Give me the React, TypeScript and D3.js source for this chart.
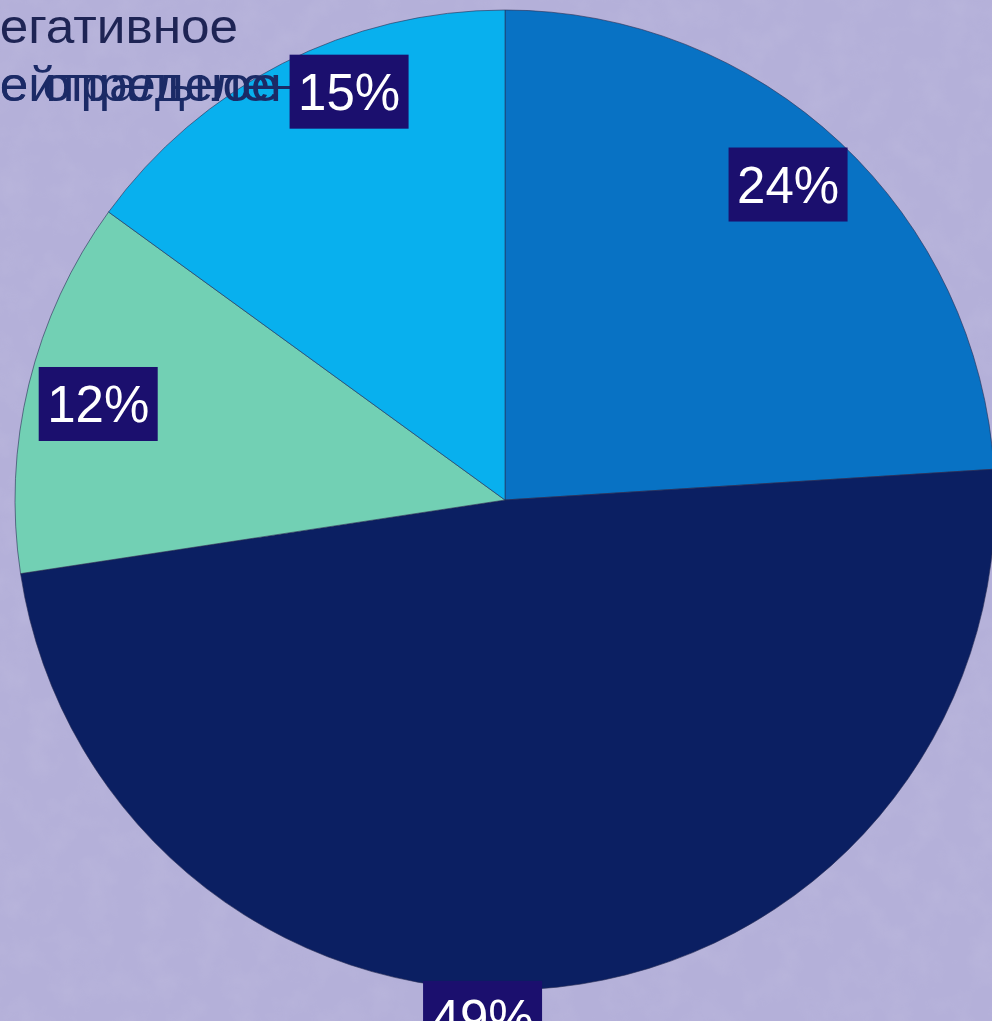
import React from "react";
import * as d3 from "d3";

const categories = ["Позитивное", "Нейтральное", "Негативное", "Не определено"];
const values = [24, 48.6, 12.4, 15];
const labels = ["24%", "49%", "12%", "15%"];
const colors = ["#0872C4", "#0B1F62", "#72D0B4", "#08B0EE"];
const legendItems = ["Негативное", "Нейтральное", "Не определено"];

// label placement: radius factor and angular nudge (degrees)
const labelPlacement = [
  { rf: 0.865, da: -1.3 },
  { rf: 1.058, da: 8.6 },
  { rf: 0.853, da: -0.4 },
  { rf: 0.892, da: 6.1 },
];

const W = 992;
const H = 1021;
const cx = 505;
const cy = 500;
const R = 490;

export default function App() {
  const pie = d3.pie<number>().sort(null).value((d) => d);
  const arcs = pie(values);
  const arc = d3.arc<d3.PieArcDatum<number>>().innerRadius(0).outerRadius(R);

  return (
    <svg
      width={W}
      height={H}
      style={{ position: "absolute", left: 0, top: 0, display: "block" }}
      fontFamily="'Liberation Sans', Arial, sans-serif"
    >
      <defs>
        <filter id="tex" x="0" y="0" width="100%" height="100%">
          <feTurbulence type="fractalNoise" baseFrequency="0.035" numOctaves="3" seed="3" result="n" />
          <feColorMatrix
            in="n"
            type="matrix"
            values="0 0 0 0 1  0 0 0 0 1  0 0 0 0 1  0.9 0 0 0 -0.35"
          />
        </filter>
      </defs>
      <rect width={W} height={H} fill="#B4B0D9" />
      <rect width={W} height={H} filter="url(#tex)" opacity={0.12} />
      <g transform={`translate(${cx},${cy})`}>
        {arcs.map((a, i) => (
          <path key={categories[i]} d={arc(a) || ""} fill={colors[i]} stroke="#2a2f55" strokeWidth={1} strokeOpacity={0.6} />
        ))}
      </g>
      <g transform="scale(1.07,1)">
        {legendItems.map((t, i) => (
          <text
            key={t}
            x={-35}
            y={i === 0 ? 43 : 101}
            fontSize={48}
            fill={i === 0 ? "#1E2454" : "#1B2A66"}
          >
            {t}
          </text>
        ))}
      </g>
      <g transform={`translate(${cx},${cy})`}>
        {arcs.map((a, i) => {
          const mid = (a.startAngle + a.endAngle) / 2 + (labelPlacement[i].da * Math.PI) / 180;
          const r = R * labelPlacement[i].rf;
          const x = r * Math.sin(mid);
          const y = -r * Math.cos(mid);
          return (
            <g key={labels[i]} transform={`translate(${x},${y})`}>
              <rect x={-59.5} y={-37} width={119} height={74} fill="#1B0F6E" />
              <text x={0} y={18} textAnchor="middle" fontSize={51} fill="#FFFFFF">
                {labels[i]}
              </text>
            </g>
          );
        })}
      </g>
    </svg>
  );
}
